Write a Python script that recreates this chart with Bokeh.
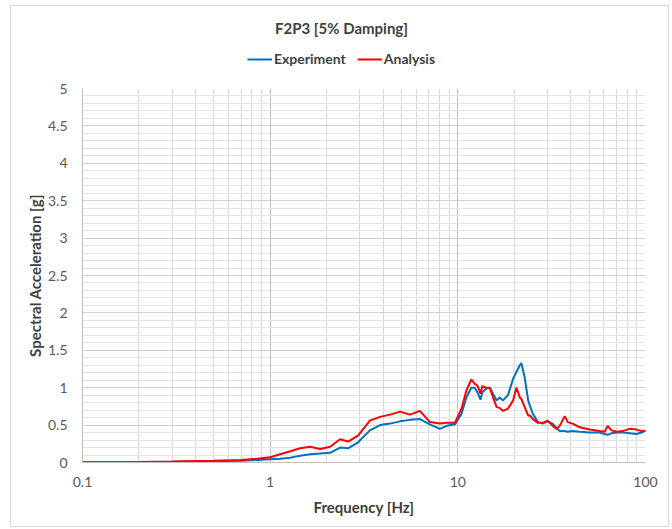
from bokeh.plotting import figure
from bokeh.layouts import column
from bokeh.models import FixedTicker, CustomJSTickFormatter, Legend, LegendItem, Label
from bokeh.embed import file_html
from bokeh.resources import INLINE

# ---- data ----
freq = [0.1, 0.2, 0.3, 0.5, 0.7, 0.85, 1.0, 1.13, 1.28, 1.444, 1.633, 1.845, 2.085, 2.357, 2.6,
        2.94, 3.4, 3.85, 4.35, 4.92, 5.56, 6.28, 7.1, 8.02, 8.74, 9.64, 10.46, 11.1, 11.8, 12.3,
        12.7, 13.2, 13.5, 14.2, 14.8, 15.4, 16.1, 16.7, 17.4, 18.5, 19.7, 20.5, 21.4, 21.8, 22.7,
        23.7, 24.2, 25.1, 26.7, 28.3, 30.1, 32.0, 33.6, 34.9, 37.1, 38.5, 40.9, 44.6, 50.4, 56.9,
        60.5, 62.8, 65.9, 70.1, 75.5, 82.2, 89.6, 95.3, 100.0]
experiment = [0.005, 0.007, 0.01, 0.018, 0.025, 0.035, 0.045, 0.05, 0.065, 0.09, 0.11, 0.12, 0.13, 0.2, 0.19,
              0.27, 0.43, 0.5, 0.52, 0.55, 0.57, 0.58, 0.51, 0.45, 0.49, 0.51, 0.65, 0.87, 1.0, 1.0,
              0.94, 0.84, 0.94, 0.99, 1.0, 0.92, 0.83, 0.87, 0.83, 0.9, 1.12, 1.21, 1.3, 1.33, 1.14,
              0.83, 0.76, 0.65, 0.54, 0.52, 0.55, 0.52, 0.46, 0.42, 0.42, 0.41, 0.42, 0.41, 0.4, 0.4,
              0.38, 0.37, 0.39, 0.4, 0.4, 0.39, 0.38, 0.4, 0.43]
analysis = [0.005, 0.008, 0.012, 0.022, 0.035, 0.05, 0.07, 0.11, 0.15, 0.19, 0.21, 0.18, 0.21, 0.31, 0.28,
            0.36, 0.56, 0.61, 0.64, 0.68, 0.64, 0.69, 0.54, 0.52, 0.53, 0.53, 0.72, 0.96, 1.11, 1.05,
            1.03, 0.92, 1.02, 1.0, 1.0, 0.87, 0.74, 0.73, 0.69, 0.72, 0.83, 1.0, 0.87, 0.85, 0.74,
            0.63, 0.63, 0.58, 0.53, 0.53, 0.56, 0.49, 0.45, 0.49, 0.62, 0.54, 0.52, 0.47, 0.44, 0.42,
            0.41, 0.49, 0.43, 0.41, 0.42, 0.45, 0.44, 0.42, 0.42]
x_ticks = [0.1, 1, 10, 100]
y_ticks = [0, 0.5, 1, 1.5, 2, 2.5, 3, 3.5, 4, 4.5, 5]

FONT = "Lato"
BLUE = "#0070C0"
RED = "#FF0000"

# ---- header strip: title + legend (its frame is aligned with the chart frame) ----
head = figure(width=657, height=72, x_range=(82, 645), y_range=(0, 72),
              min_border_left=71, min_border_right=23, min_border_top=0, min_border_bottom=0,
              output_backend="svg", toolbar_location=None,
              x_axis_location=None, y_axis_location=None)
head.grid.visible = False
head.outline_line_color = None
head.add_layout(Label(x=341, y=51, text="F2P3 [5% Damping]", text_align="center",
                      text_baseline="middle", text_font=FONT, text_font_size="15px",
                      text_font_style="bold", text_color="#404040"))
h1 = head.line([-100, -99], [-100, -100], line_color=BLUE, line_width=2)
h2 = head.line([-100, -99], [-100, -100], line_color=RED, line_width=2)
legend = Legend(items=[LegendItem(label="Experiment", renderers=[h1]),
                       LegendItem(label="Analysis", renderers=[h2])],
                orientation="horizontal", location=(165, 11),
                border_line_color=None, background_fill_alpha=0,
                label_text_font=FONT, label_text_font_style="bold",
                label_text_font_size="14px", label_text_color="#404040",
                glyph_width=25, glyph_height=16, label_height=16,
                spacing=11, label_standoff=2, padding=0, margin=0)
head.add_layout(legend, "center")

# ---- main chart ----
p = figure(x_axis_type="log", x_range=(0.1, 100), y_range=(0, 5),
           width=657, height=448,
           min_border_left=71, min_border_right=23, min_border_top=10, min_border_bottom=64,
           output_backend="svg", toolbar_location=None)
p.outline_line_color = None

p.line(freq, experiment, line_color=BLUE, line_width=2)
p.line(freq, analysis, line_color=RED, line_width=2)

minor_x = [k * 10 ** e for e in (-1, 0, 1) for k in range(2, 10)]
p.xaxis.ticker = FixedTicker(ticks=x_ticks, minor_ticks=minor_x)
p.yaxis.ticker = FixedTicker(ticks=y_ticks, minor_ticks=[i / 10 for i in range(51)])
fmt = "return String(tick);"
p.xaxis.formatter = CustomJSTickFormatter(code=fmt)
p.yaxis.formatter = CustomJSTickFormatter(code=fmt)

for ax in (p.xaxis, p.yaxis):
    ax.major_tick_line_color = None
    ax.minor_tick_line_color = None
    ax.axis_line_color = "#bfbfbf"
    ax.major_label_text_font = FONT
    ax.major_label_text_font_size = "14px"
    ax.major_label_text_color = "#595959"
    ax.axis_label_text_font = FONT
    ax.axis_label_text_font_size = "15px"
    ax.axis_label_text_font_style = "bold"
    ax.axis_label_text_color = "#404040"

p.xaxis.axis_label = "Frequency [Hz]"
p.yaxis.axis_label = "Spectral Acceleration [g]"
p.xaxis.major_label_standoff = 8
p.yaxis.major_label_standoff = 9
p.xaxis.axis_label_standoff = 8
p.yaxis.axis_label_standoff = 1

p.xgrid.grid_line_color = "#bfbfbf"
p.xgrid.minor_grid_line_color = "#d9d9d9"
p.ygrid.grid_line_color = "#d0d0d0"
p.ygrid.minor_grid_line_color = "#e4e4e4"

layout = column(head, p, spacing=0,
                styles={"border": "1px solid #d9d9d9", "margin": "5px 0 0 10px"})

open("out.html", "w").write(file_html(layout, INLINE))
